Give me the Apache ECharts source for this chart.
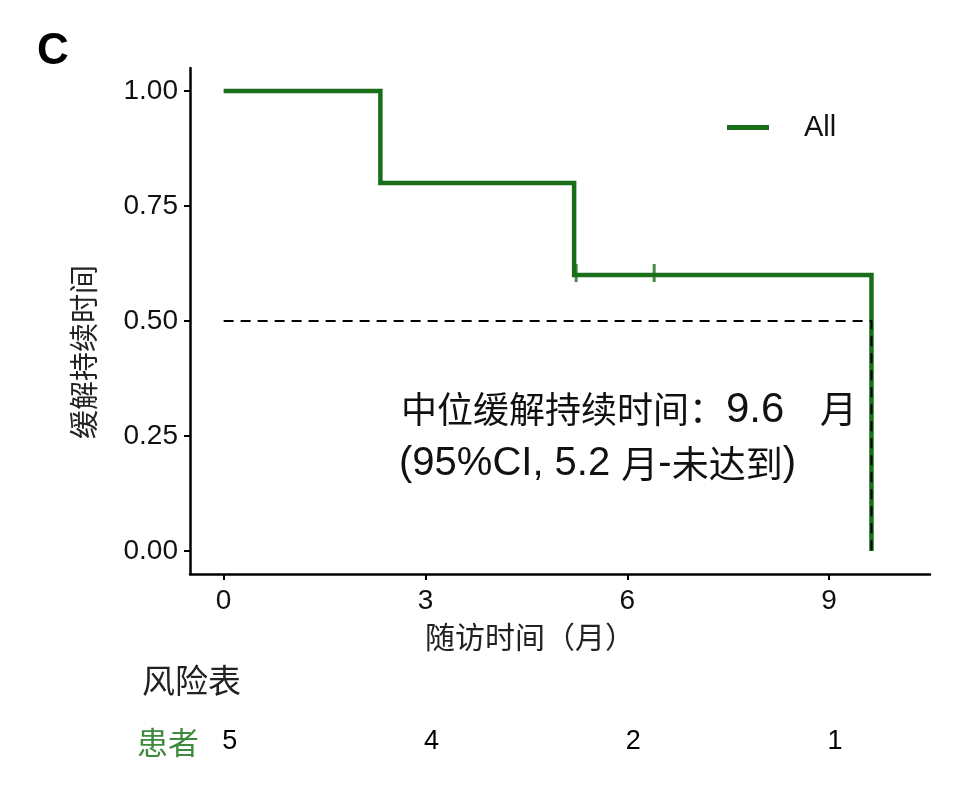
<!DOCTYPE html>
<html>
<head>
<meta charset="utf-8">
<script src="https://cdn.jsdelivr.net/npm/echarts@6/dist/echarts.min.js"></script>
<style>
html,body{margin:0;padding:0;background:#fff;}
#chart{width:975px;height:792px;}
</style>
</head>
<body>
<div id="chart"></div>
<script>
// Kaplan-Meier step curve (time in months, survival probability)
var kmTimes = [0, 2.33, 2.33, 5.21, 5.21, 9.63, 9.63];
var kmSurv  = [1, 1, 0.8, 0.8, 0.6, 0.6, 0];
// censored observations
var censorTimes = [5.24, 6.40];
var censorSurv  = [0.6, 0.6];
// median reference line
var medianTimes = [0, 9.63, 9.63];
var medianSurv  = [0.5, 0.5, 0];
// axis ticks
var xTicks = [0, 3, 6, 9];
var yTicks = [0, 0.25, 0.5, 0.75, 1];
// risk table
var riskTimes  = [0, 3, 6, 9];
var riskCounts = [5, 4, 2, 1];
var seriesName = 'All';

var GREEN = '#1a6e1a';
var LATIN = 'Liberation Sans, Arial, sans-serif';
var CJK = 'Noto Sans CJK SC, sans-serif';

function zip(a, b) { return a.map(function (v, i) { return [v, b[i]]; }); }

var chart = echarts.init(document.getElementById('chart'), null, {renderer: 'canvas'});
var option = {
  animation: false,
  backgroundColor: '#ffffff',
  grid: [
    {left: 190, top: 68, width: 740, height: 506},
    {left: 196, top: 727, width: 740, height: 30}
  ],
  legend: {
    left: 727, top: 112, padding: 0,
    itemWidth: 42, itemHeight: 5,
    data: [{name: seriesName, icon: 'rect'}],
    textStyle: {fontSize: 29, fontFamily: LATIN, color: '#111', padding: [0, 0, 0, 30], lineHeight: 31}
  },
  xAxis: [{
    gridIndex: 0, type: 'value', min: -0.5, max: 10.5,
    splitLine: {show: false},
    axisLine: {onZero: false, lineStyle: {color: '#000', width: 2.5}},
    axisTick: {show: true, length: 6, lineStyle: {color: '#000', width: 2}, customValues: xTicks},
    axisLabel: {customValues: xTicks, fontSize: 28, fontFamily: LATIN, color: '#111', margin: 13}
  }, {
    gridIndex: 1, type: 'value', min: -0.5, max: 10.5, show: false
  }],
  yAxis: [{
    gridIndex: 0, type: 'value', min: -0.05, max: 1.05,
    splitLine: {show: false},
    axisLine: {show: true, onZero: false, lineStyle: {color: '#000', width: 2.5}},
    axisTick: {show: true, length: 6, lineStyle: {color: '#000', width: 2}, customValues: yTicks},
    axisLabel: {customValues: yTicks, fontSize: 28, fontFamily: LATIN, color: '#111', margin: 12,
      formatter: function (v) { return Number(v).toFixed(2); }}
  }, {
    gridIndex: 1, type: 'value', min: 0, max: 1, show: false
  }],
  series: [{
    name: seriesName, type: 'line', xAxisIndex: 0, yAxisIndex: 0,
    data: zip(kmTimes, kmSurv), symbol: 'none', z: 3,
    lineStyle: {color: GREEN, width: 4.5, join: 'miter'}, itemStyle: {color: GREEN}
  }, {
    name: 'censor', type: 'scatter', xAxisIndex: 0, yAxisIndex: 0,
    data: zip(censorTimes, censorSurv), symbol: 'rect', symbolSize: [3, 18], symbolOffset: [0, -2], z: 4,
    itemStyle: {color: GREEN}
  }, {
    name: 'median', type: 'line', xAxisIndex: 0, yAxisIndex: 0,
    data: zip(medianTimes, medianSurv), symbol: 'none', z: 5,
    lineStyle: {color: '#000', width: 2, type: [10, 7]}
  }, {
    name: 'risk', type: 'custom', xAxisIndex: 1, yAxisIndex: 1, silent: true,
    data: riskTimes.map(function (t, i) { return [t, 0.5, riskCounts[i]]; }),
    renderItem: function (params, api) {
      var p = api.coord([api.value(0), api.value(1)]);
      return {
        type: 'text', x: p[0], y: p[1],
        style: {text: String(api.value(2)), fontSize: 27, fontFamily: LATIN, fill: '#000',
          align: 'center', verticalAlign: 'middle'}
      };
    }
  }],
  graphic: [
    {type: 'text', left: 37, top: 30, style: {text: 'C', fontSize: 44, fontWeight: 'bold', fontFamily: LATIN, fill: '#000'}},
    {type: 'text', x: 84, y: 352, rotation: Math.PI / 2,
      style: {text: '缓解持续时间', fontSize: 29, fontFamily: CJK, fill: '#222', align: 'center', verticalAlign: 'middle'}},
    {type: 'text', x: 530, y: 637,
      style: {text: '随访时间（月）', fontSize: 30, fontFamily: CJK, fill: '#222', align: 'center', verticalAlign: 'middle'}},
    {type: 'text', x: 401, y: 409,
      style: {text: '中位缓解持续时间：', fontSize: 36, fontFamily: CJK, fill: '#111', verticalAlign: 'middle'}},
    {type: 'text', x: 726, y: 410,
      style: {text: '9.6', fontSize: 42, fontFamily: LATIN, fill: '#111', verticalAlign: 'middle'}},
    {type: 'text', x: 820, y: 409,
      style: {text: '月', fontSize: 37, fontFamily: CJK, fill: '#111', verticalAlign: 'middle'}},
    {type: 'text', x: 399, y: 464,
      style: {text: '{l|(95%CI, 5.2 }{c|月}{l|-}{c|未达到}{l|)}', verticalAlign: 'middle', fill: '#111',
        rich: {c: {fontSize: 37, fontFamily: CJK, fill: '#111'}, l: {fontSize: 40, fontFamily: LATIN, fill: '#111'}}}},
    {type: 'text', x: 142, y: 680,
      style: {text: '风险表', fontSize: 33, fontFamily: CJK, fill: '#222', verticalAlign: 'middle'}},
    {type: 'text', x: 137, y: 742,
      style: {text: '患者', fontSize: 31, fontFamily: CJK, fill: '#3d8a3d', verticalAlign: 'middle'}}
  ]
};
chart.setOption(option);
</script>
</body>
</html>
